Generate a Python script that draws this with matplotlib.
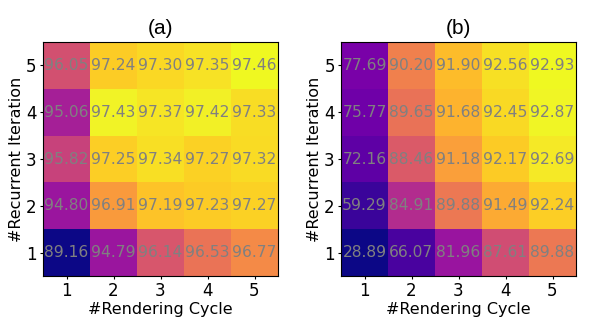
import numpy as np
import matplotlib
matplotlib.use('Agg')
import matplotlib.pyplot as plt

cycles = [1, 2, 3, 4, 5]
iterations = [1, 2, 3, 4, 5]

# rows: recurrent iteration 1..5, cols: rendering cycle 1..5
acc_a = np.array([
    [89.16, 94.79, 96.14, 96.53, 96.77],
    [94.80, 96.91, 97.19, 97.23, 97.27],
    [95.82, 97.25, 97.34, 97.27, 97.32],
    [95.06, 97.43, 97.37, 97.42, 97.33],
    [96.05, 97.24, 97.30, 97.35, 97.46],
])
acc_b = np.array([
    [28.89, 66.07, 81.96, 87.61, 89.88],
    [59.29, 84.91, 89.88, 91.49, 92.24],
    [72.16, 88.46, 91.18, 92.17, 92.69],
    [75.77, 89.65, 91.68, 92.45, 92.87],
    [77.69, 90.20, 91.90, 92.56, 92.93],
])

fig = plt.figure(figsize=(5.98, 3.26), dpi=100)
ax_a = fig.add_axes([43 / 598, 1 - 276 / 326, 235 / 598, 234 / 326])
ax_b = fig.add_axes([341 / 598, 1 - 276 / 326, 235 / 598, 234 / 326])

for ax, acc, title in [(ax_a, acc_a, '(a)'), (ax_b, acc_b, '(b)')]:
    # colour follows inverse error rate
    ax.imshow(1.0 / (100.0 - acc), cmap='plasma', origin='lower', aspect='auto')
    for i in range(len(iterations)):
        for j in range(len(cycles)):
            ax.text(j, i, '%.2f' % acc[i, j], ha='center', va='center',
                    color='gray', fontsize=11.2)
    ax.set_xticks(range(len(cycles)))
    ax.set_xticklabels(cycles, fontsize=12)
    ax.set_yticks(range(len(iterations)))
    ax.set_yticklabels(iterations, fontsize=12)
    ax.tick_params(length=2.5, pad=2)
    ax.set_xlabel('#Rendering Cycle', fontsize=11.5, labelpad=1.5)
    ax.set_ylabel('#Recurrent Iteration', fontsize=11.5, labelpad=1.5)
    ax.set_title(title, fontsize=15, family='Liberation Sans', pad=6)

fig.savefig('out.png', dpi=100)
